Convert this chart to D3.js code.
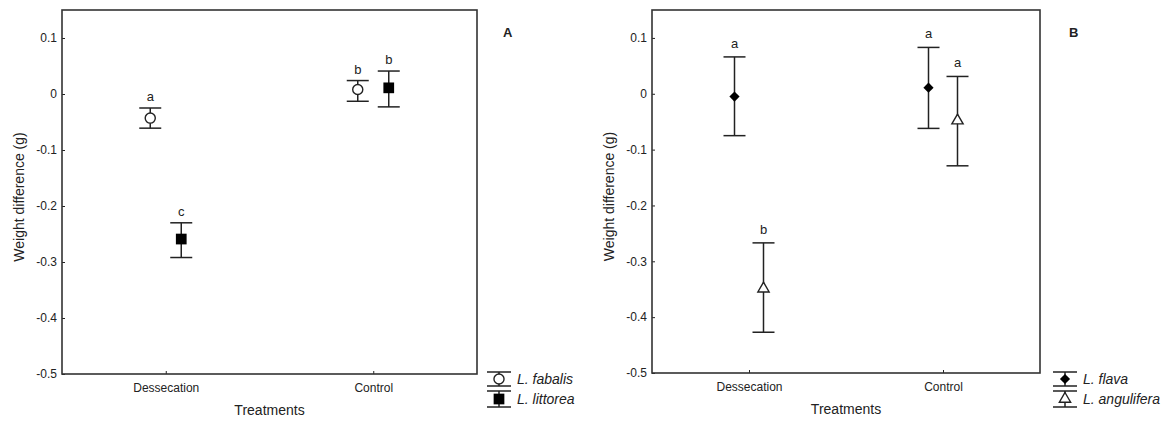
<!DOCTYPE html>
<html>
<head>
<meta charset="utf-8">
<title>Weight difference</title>
<script src="https://d3js.org/d3.v7.min.js"></script>
<style>
  body { margin: 0; background: #fff; }
  svg text { font-family: "Liberation Sans", Arial, sans-serif; fill: #222; }
</style>
</head>
<body>
<svg id="chart" width="1168" height="422"></svg>
<script>
// ---- data ----
const treatments = ["Dessecation", "Control"];
const yTicks = [0.1, 0, -0.1, -0.2, -0.3, -0.4, -0.5];

// panel A
const speciesA = ["L. fabalis", "L. littorea"];
const fabalisMean = [-0.043, 0.008];
const fabalisLow = [-0.061, -0.013];
const fabalisHigh = [-0.025, 0.024];
const fabalisLetters = ["a", "b"];
const littoreaMean = [-0.259, 0.011];
const littoreaLow = [-0.292, -0.023];
const littoreaHigh = [-0.230, 0.041];
const littoreaLetters = ["c", "b"];

// panel B
const speciesB = ["L. flava", "L. angulifera"];
const flavaMean = [-0.005, 0.011];
const flavaLow = [-0.075, -0.062];
const flavaHigh = [0.066, 0.083];
const flavaLetters = ["a", "a"];
const anguliferaMean = [-0.349, -0.048];
const anguliferaLow = [-0.427, -0.129];
const anguliferaHigh = [-0.267, 0.031];
const anguliferaLetters = ["b", "a"];

const svg = d3.select("#chart");
const INK = "#222";

function makeSeries(name, mean, low, high, letters, marker) {
    return { name, marker, points: treatments.map((t, i) => ({
        treatment: t, mean: mean[i], low: low[i], high: high[i], letter: letters[i] })) };
}

// marker drawing
function drawMarker(sel, type) {
    if (type === "circle") {
        sel.append("path").attr("d", d3.symbol(d3.symbolCircle, 80)())
           .attr("fill", "#fff").attr("stroke", INK).attr("stroke-width", 1.4);
    } else if (type === "square") {
        sel.append("path").attr("d", d3.symbol(d3.symbolSquare, 115)())
           .attr("fill", "#000");
    } else if (type === "diamond") {
        sel.append("path").attr("d", d3.symbol(d3.symbolSquare, 52)())
           .attr("transform", "rotate(45)").attr("fill", "#000");
    } else if (type === "triangle") {
        sel.append("path").attr("d", d3.symbol(d3.symbolTriangle, 55)())
           .attr("fill", "#fff").attr("stroke", INK).attr("stroke-width", 1.4);
    }
}

function panel(cfg) {
    const { left, right, top, bottom, series, offset, label, legendX, letterGap } = cfg;
    const g = svg.append("g");

    const x = d3.scalePoint().domain(treatments).range([left, right]).padding(0.5);
    const dx = d3.scalePoint().domain(series.map(s => s.name)).range([-offset, offset]);
    const y = d3.scaleLinear().domain([-0.5, 0.15]).range([bottom, top]);

    // axes
    const yAxis = d3.axisLeft(y).tickValues(yTicks).tickSize(-3).tickPadding(5)
                    .tickFormat(d => d === 0 ? "0" : d3.format(".1f")(d).replace("−", "-"));
    const gy = g.append("g").attr("transform", `translate(${left},0)`).call(yAxis);
    const xAxis = d3.axisBottom(x).tickSize(-3).tickPadding(9);
    const gx = g.append("g").attr("transform", `translate(0,${bottom})`).call(xAxis);
    [gy, gx].forEach(a => {
        a.select(".domain").remove();
        a.selectAll("line").attr("stroke", INK);
        a.selectAll("text").style("font-size", "12px").attr("fill", INK)
         .style("font-family", "'Liberation Sans', Arial, sans-serif");
    });

    // frame
    g.append("rect").attr("x", left).attr("y", top)
     .attr("width", right - left).attr("height", bottom - top)
     .attr("fill", "none").attr("stroke", "#333").attr("stroke-width", 1.6);

    // titles
    g.append("text").attr("x", (left + right) / 2).attr("y", bottom + 41)
     .attr("text-anchor", "middle").style("font-size", "14px").text("Treatments");
    g.append("text").attr("transform", `translate(${left - 38},${(top + bottom) / 2 + 5}) rotate(-90)`)
     .attr("text-anchor", "middle").style("font-size", "14px").text("Weight difference (g)");
    g.append("text").attr("x", cfg.labelX).attr("y", 37).style("font-size", "13px")
     .style("font-weight", "bold").text(label);

    // error bars + markers + letters
    const CAP = 11;
    series.forEach(s => {
        s.points.forEach(p => {
            const cx = x(p.treatment) + dx(s.name);
            const eb = g.append("g");
            eb.append("line").attr("x1", cx).attr("x2", cx).attr("y1", y(p.high)).attr("y2", y(p.low));
            eb.append("line").attr("x1", cx - CAP).attr("x2", cx + CAP).attr("y1", y(p.high)).attr("y2", y(p.high));
            eb.append("line").attr("x1", cx - CAP).attr("x2", cx + CAP).attr("y1", y(p.low)).attr("y2", y(p.low));
            eb.selectAll("line").attr("stroke", INK).attr("stroke-width", 1.5);
            const m = g.append("g").attr("transform", `translate(${cx},${y(p.mean)})`);
            drawMarker(m, s.marker);
            g.append("text").attr("x", cx).attr("y", y(p.high) - letterGap)
             .attr("text-anchor", "middle").style("font-size", "13px").text(p.letter);
        });
    });

    // legend
    const rowY = [379, 399];
    series.forEach((s, i) => {
        const lg = g.append("g").attr("transform", `translate(${legendX},${rowY[i]})`);
        const h = i === 0 ? 7 : 8;
        lg.append("line").attr("x1", 0).attr("x2", 0).attr("y1", -h).attr("y2", h);
        lg.append("line").attr("x1", -12).attr("x2", 12).attr("y1", -h).attr("y2", -h);
        lg.append("line").attr("x1", -12).attr("x2", 12).attr("y1", h).attr("y2", h);
        lg.selectAll("line").attr("stroke", INK).attr("stroke-width", 1.5);
        drawMarker(lg, s.marker);
        lg.append("text").attr("x", 18).attr("y", 5).style("font-size", "14px")
          .style("font-style", "italic").text(s.name);
    });
}

panel({
    left: 62, right: 477, top: 10, bottom: 374, offset: 15.5, letterGap: 7,
    label: "A", labelX: 503, legendX: 499,
    series: [
        makeSeries(speciesA[0], fabalisMean, fabalisLow, fabalisHigh, fabalisLetters, "circle"),
        makeSeries(speciesA[1], littoreaMean, littoreaLow, littoreaHigh, littoreaLetters, "square")
    ]
});

panel({
    left: 652, right: 1040, top: 10, bottom: 373, offset: 14.5, letterGap: 9,
    label: "B", labelX: 1069, legendX: 1065,
    series: [
        makeSeries(speciesB[0], flavaMean, flavaLow, flavaHigh, flavaLetters, "diamond"),
        makeSeries(speciesB[1], anguliferaMean, anguliferaLow, anguliferaHigh, anguliferaLetters, "triangle")
    ]
});
</script>
</body>
</html>
